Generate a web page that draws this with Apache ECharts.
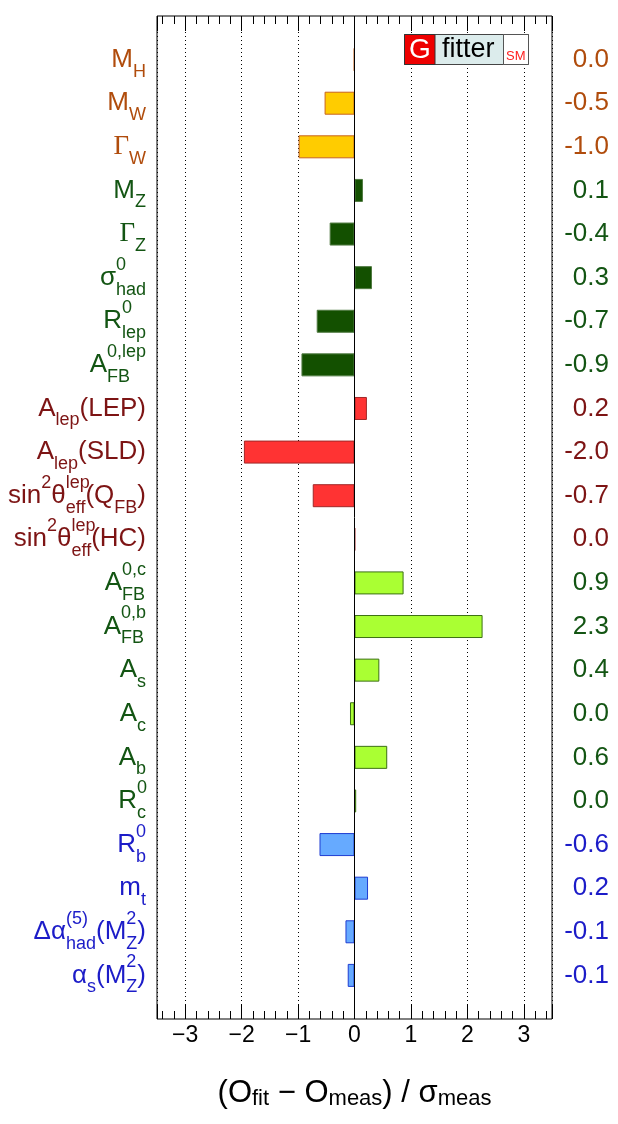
<!DOCTYPE html>
<html>
<head>
<meta charset="utf-8">
<script src="https://cdn.jsdelivr.net/npm/echarts@6/dist/echarts.min.js"></script>
<style>
html,body{margin:0;padding:0;background:#fff;}
#c{width:618px;height:1124px;}
</style>
</head>
<body>
<div id="c"></div>
<script>
// ---- data ----
const categories = ['M_H','M_W','Gamma_W','M_Z','Gamma_Z','sigma0_had','R0_lep','A0lep_FB',
  'A_lep(LEP)','A_lep(SLD)','sin2theta_eff(Q_FB)','sin2theta_eff(HC)',
  'A0c_FB','A0b_FB','A_s','A_c','A_b','R0_c','R0_b','m_t','Dalpha5_had(MZ2)','alpha_s(MZ2)'];
const categoryLabels = [
  '{n|M}{b|H}',
  '{n|M}{b|W}',
  '{g|\u0393}{b|W}',
  '{n|M}{b|Z}',
  '{g|\u0393}{b|Z}',
  '{n|\u03c3}{p0|0}{b|had}',
  '{n|R}{p0|0}{b|lep}',
  '{n|A}{b0|FB}{p|0,lep}',
  '{n|A}{b|lep}{n|(LEP)}',
  '{n|A}{b|lep}{n|(SLD)}',
  '{n|sin}{p|2}{n|\u03b8}{p0|lep}{b|eff}{n|(Q}{b|FB}{n|)}',
  '{n|sin}{p|2}{n|\u03b8}{p0|lep}{b|eff}{n|(HC)}',
  '{n|A}{b0|FB}{p|0,c}',
  '{n|A}{b0|FB}{p|0,b}',
  '{n|A}{b|s}',
  '{n|A}{b|c}',
  '{n|A}{b|b}',
  '{n|R}{p0|0}{b|c}',
  '{n|R}{p0|0}{b|b}',
  '{n|m}{b|t}',
  '{n|\u0394\u03b1}{p0|(5)}{b|had}{n|(M}{p0|2}{b|Z}{n|)}',
  '{n|\u03b1}{b|s}{n|(M}{p0|2}{b|Z}{n|)}'
];
const pulls = [-0.01,-0.53,-0.99,0.15,-0.44,0.31,-0.67,-0.94,
  0.22,-1.96,-0.74,0.01,
  0.87,2.27,0.44,-0.08,0.58,0.03,-0.62,0.24,-0.16,-0.12];
const pullLabels = ['0.0','-0.5','-1.0','0.1','-0.4','0.3','-0.7','-0.9',
  '0.2','-2.0','-0.7','0.0',
  '0.9','2.3','0.4','0.0','0.6','0.0','-0.6','0.2','-0.1','-0.1'];
const groups = [0,0,0,1,1,1,1,1,2,2,2,2,3,3,3,3,3,3,4,4,4,4];

// ---- styles ----
const FONT = 'Liberation Sans, Arial, Helvetica, sans-serif';
const textColors = ['#b04c0c','#135513','#7d1414','#135513','#1c1cc8'];
const barFill   = ['#ffcc00','#135000','#ff3333','#aaff33','#66aaff'];
const barBorder = ['#c8641e','#4f7a40','#a02828','#3c7014','#1e3cd2'];

const yCats = ['_top'].concat(categories, ['_bottom']);

const richLabel = {
  n:  {fontSize:26, fontFamily:FONT, align:'left'},
  g:  {fontSize:27, fontFamily:'Liberation Serif, serif', align:'left'},
  b:  {fontSize:18, fontFamily:FONT, align:'left', padding:[24,0,0,0]},
  b0: {fontSize:18, fontFamily:FONT, align:'left', padding:[24,0,0,0], width:0},
  p:  {fontSize:18, fontFamily:FONT, align:'left', padding:[0,0,26,0]},
  p0: {fontSize:18, fontFamily:FONT, align:'left', padding:[0,0,26,0], width:0}
};

const xBase = {type:'value', min:-3.5, max:3.5, gridIndex:0,
  axisLine:{show:false}, splitLine:{show:false}};

const chart = echarts.init(document.getElementById('c'), null, {renderer:'canvas'});
chart.setOption({
  animation:false,
  backgroundColor:'#fff',
  grid:{left:157, right:66, top:16, bottom:105, show:true, borderColor:'#000', borderWidth:1,
        backgroundColor:'transparent', containLabel:false, outerBoundsMode:'none'},
  xAxis:[
    Object.assign({}, xBase, {
      position:'bottom', splitNumber:7,
      axisTick:{show:true, inside:true, length:15, lineStyle:{color:'#000', width:1}},
      axisLabel:{show:true, margin:5, color:'#000', fontSize:23, fontFamily:FONT,
        formatter:function(v){
          if (Math.abs(v - Math.round(v)) > 1e-6 || Math.abs(v) > 3.01) return '';
          const r = Math.round(v);
          return r < 0 ? '\u2212' + (-r) : String(r);
        }},
      splitLine:{show:true, lineStyle:{color:'#000', width:1, type:[1,3]}},
      name:'{a|(O}{s|fit}{a| \u2212 O}{s|meas}{a|) / \u03c3}{s|meas}',
      nameLocation:'middle', nameGap:58,
      nameTextStyle:{color:'#000', rich:{
        a:{fontSize:31, fontFamily:FONT, color:'#000'},
        s:{fontSize:22, fontFamily:FONT, color:'#000', padding:[11,0,0,0]}
      }}
    }),
    Object.assign({}, xBase, {
      position:'bottom', splitNumber:35,
      axisTick:{show:true, inside:true, length:8, lineStyle:{color:'#000', width:1}},
      axisLabel:{show:false}
    }),
    Object.assign({}, xBase, {
      position:'top', splitNumber:7,
      axisTick:{show:true, inside:true, length:15, lineStyle:{color:'#000', width:1}},
      axisLabel:{show:false}
    }),
    Object.assign({}, xBase, {
      position:'top', splitNumber:35,
      axisTick:{show:true, inside:true, length:8, lineStyle:{color:'#000', width:1}},
      axisLabel:{show:false}
    })
  ],
  yAxis:[
    {type:'category', data:yCats, inverse:true, boundaryGap:false, position:'left',
     axisLine:{show:false}, axisTick:{show:false}, splitLine:{show:false},
     axisLabel:{interval:0, margin:11, fontFamily:FONT, fontSize:26,
       color:function(v, i){ const k = yCats.indexOf(v) - 1; return k >= 0 && k < groups.length ? textColors[groups[k]] : '#000'; },
       formatter:function(v, i){ const k = yCats.indexOf(v) - 1; return k >= 0 && k < categoryLabels.length ? categoryLabels[k] : ''; },
       rich:richLabel}
    },
    {type:'category', data:yCats, inverse:true, boundaryGap:false, position:'right',
     axisLine:{show:false}, axisTick:{show:false}, splitLine:{show:false},
     axisLabel:{interval:0, margin:57, align:'right', fontFamily:FONT, fontSize:26,
       color:function(v, i){ const k = yCats.indexOf(v) - 1; return k >= 0 && k < groups.length ? textColors[groups[k]] : '#000'; },
       formatter:function(v, i){ const k = yCats.indexOf(v) - 1; return k >= 0 && k < pullLabels.length ? pullLabels[k] : ''; }}
    }
  ],
  graphic:[
    {type:'rect', z:100, shape:{x:404.5, y:34.5, width:124, height:30}, style:{fill:'#dcecec', stroke:'#444', lineWidth:1}},
    {type:'rect', z:101, shape:{x:404.5, y:34.5, width:30.5, height:30}, style:{fill:'#ee0000', stroke:'#333', lineWidth:1}},
    {type:'rect', z:101, shape:{x:503.5, y:34.5, width:25, height:30}, style:{fill:'#ffffff', stroke:'#555', lineWidth:1}},
    {type:'text', z:102, left:409, top:36, style:{text:'G', fill:'#ffffff', font:'normal 28px Liberation Sans'}},
    {type:'text', z:102, left:442, top:36, style:{text:'fitter', fill:'#000000', font:'normal 27px Liberation Sans'}},
    {type:'text', z:102, left:506, top:50, style:{text:'SM', fill:'#ff2020', font:'normal 13px Liberation Sans'}}
  ],
  series:[
    {type:'bar', xAxisIndex:0, yAxisIndex:0, barWidth:23,
     data:['-'].concat(pulls.map(function(v, k){
       return {value:v, itemStyle:{color:barFill[groups[k]], borderColor:barBorder[groups[k]], borderWidth:1}};
     }), ['-']),
     markLine:{silent:true, symbol:['none','none'], label:{show:false},
       lineStyle:{color:'#000', type:'solid', width:1}, data:[{xAxis:0}]}
    }
  ]
});
</script>
</body>
</html>
